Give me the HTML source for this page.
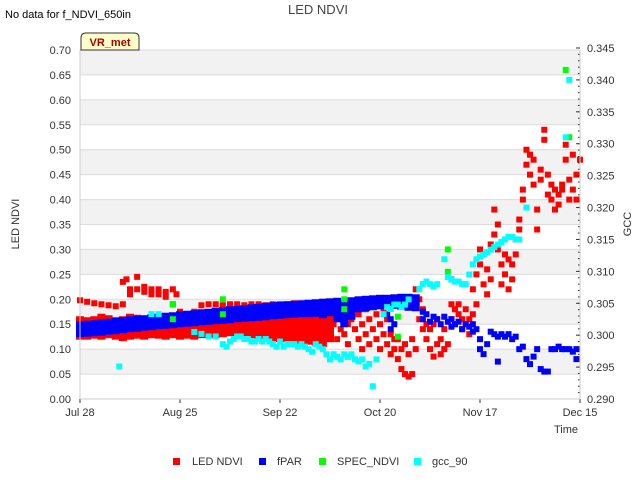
<!DOCTYPE html>
<html><head><meta charset="utf-8"><style>
body{margin:0;background:#fff;font-family:"Liberation Sans","DejaVu Sans",sans-serif}
svg text{font-family:"Liberation Sans","DejaVu Sans",sans-serif}
</style></head><body>
<svg id="chart" width="640" height="480" xmlns="http://www.w3.org/2000/svg">
<rect width="640" height="480" fill="#fff"/>
<g id="bands"></g><g id="grid"></g>
<g id="marks"></g>
<g id="axes"></g>
<text x="5" y="18" font-size="11" fill="#000">No data for f_NDVI_650in</text>
<text x="318" y="14" font-size="13" fill="#444" text-anchor="middle">LED NDVI</text>
<g>
<path d="M81,50 L81,38 Q81,33 86,33 L134,33 Q139,33 139,38 L139,50 Z" fill="#ffffcc" stroke="#333" stroke-width="1"/>
<text x="110" y="46" font-size="11" font-weight="bold" fill="#a00" text-anchor="middle">VR_met</text>
</g>
<text transform="translate(19,224) rotate(-90)" font-size="11" fill="#333" text-anchor="middle">LED NDVI</text>
<text transform="translate(631,224) rotate(-90)" font-size="11" fill="#333" text-anchor="middle">GCC</text>
<text x="566" y="433" font-size="11" fill="#333" text-anchor="middle">Time</text>
<g id="legend"></g>
</svg>
<script>
const yTicks=[0,0.05,0.1,0.15,0.2,0.25,0.3,0.35,0.4,0.45,0.5,0.55,0.6,0.65,0.7];
const y2Ticks=[0.29,0.295,0.3,0.305,0.31,0.315,0.32,0.325,0.33,0.335,0.34,0.345];
const xTickDays=[0,28,56,84,112,140];
const xTickLabels=["Jul 28","Aug 25","Sep 22","Oct 20","Nov 17","Dec 15"];
const fparHi=[0.150,0.151,0.152,0.154,0.155,0.157,0.158,0.160,0.161,0.162,0.164,0.165,0.167,0.168,0.170,0.171,0.172,0.174,0.175,0.177,0.178,0.180,0.181,0.182,0.184,0.185,0.187,0.188,0.189,0.190,0.191,0.192,0.193,0.194,0.195,0.196,0.197,0.192,0.198,0.200,0.201,0.202,0.203,0.203,0.204,0.205,0.205,0.204];
const fparLo=[0.130,0.131,0.132,0.133,0.135,0.136,0.138,0.140,0.141,0.143,0.144,0.146,0.147,0.148,0.150,0.151,0.152,0.154,0.155,0.156,0.157,0.158,0.160,0.161,0.162,0.163,0.164,0.166,0.167,0.168,0.169,0.170,0.170,0.171,0.168,0.172,0.160,0.150,0.165,0.180,0.182,0.184,0.186,0.186,0.187,0.185,0.183,0.182];
const fparExDays=[86,87,88,87,96,96,97,98,99,100,101,102,103,104,104,105,106,107,108,109,110,110,111,112,112,113,114,115,116,117,117,118,119,120,121,122,123,124,125,126,127,128,129,130,131,132,133,134,135,136,137,138,139,139];
const fparExVals=[0.17,0.16,0.15,0.14,0.175,0.16,0.17,0.155,0.165,0.16,0.15,0.165,0.155,0.16,0.145,0.15,0.155,0.14,0.15,0.145,0.15,0.135,0.14,0.12,0.10,0.09,0.11,0.135,0.13,0.125,0.075,0.13,0.125,0.13,0.12,0.125,0.10,0.105,0.08,0.07,0.085,0.10,0.06,0.055,0.055,0.1,0.1,0.105,0.1,0.1,0.1,0.095,0.1,0.08];
const ledLo=[0.125,0.125,0.127,0.125,0.128,0.125,0.122,0.125,0.127,0.125,0.128,0.127,0.125,0.128,0.125,0.127,0.125,0.128,0.13,0.128,0.13,0.132,0.13,0.13,0.128,0.125,0.125,0.122,0.12,0.12,0.118,0.115,0.115,0.113,0.11,0.12];
const ledHi=[0.160,0.158,0.160,0.165,0.162,0.158,0.160,0.165,0.163,0.160,0.158,0.162,0.165,0.165,0.168,0.165,0.163,0.165,0.168,0.165,0.167,0.170,0.168,0.170,0.172,0.170,0.172,0.175,0.175,0.178,0.18,0.18,0.182,0.18,0.182,0.185];
const ledTop=[0.198,0.195,0.192,0.19,0.188,0.186,0.19,0.21,0.22,0.215,0.22,0.21,0.205,0.19,0.175,0.17,0.175,0.188,0.19,0.19,0.188,0.19,0.19,0.188,0.19,0.19,0.188,0.19,0.19,0.19,0.192,0.19,0.192,0.19,0.195,0.19];
const ledExDays=[12,13,14,16,18,20,22,24,26,27,70,70,71,72,72,73,74,74,75,75,76,77,77,78,78,79,79,80,80,81,81,82,82,83,83,84,84,85,85,86,86,87,87,88,88,89,89,90,90,91,91,92,92,93,93,94,94,95,95,96,96,97,97,98,98,99,99,100,100,101,101,102,102,103,104,104,104,105,105,106,106,107,107,108,108,109,109,110,110,111,111,112,112,113,113,114,114,115,115,116,116,117,117,118,118,119,119,120,120,121,121,122,122,123,123,124,124,125,125,126,126,127,127,128,128,129,129,130,130,131,131,132,132,133,133,134,134,135,135,136,136,137,137,138,138,139,139,140];
const ledExVals=[0.235,0.24,0.22,0.245,0.225,0.21,0.22,0.215,0.22,0.21,0.13,0.17,0.15,0.12,0.16,0.14,0.18,0.13,0.15,0.11,0.16,0.14,0.19,0.12,0.17,0.15,0.10,0.13,0.18,0.16,0.11,0.14,0.19,0.12,0.17,0.15,0.10,0.13,0.18,0.11,0.16,0.13,0.09,0.12,0.10,0.08,0.12,0.06,0.10,0.05,0.11,0.09,0.045,0.12,0.05,0.10,0.22,0.20,0.16,0.14,0.18,0.12,0.15,0.14,0.10,0.085,0.15,0.11,0.16,0.12,0.09,0.14,0.10,0.11,0.19,0.24,0.16,0.18,0.15,0.17,0.19,0.16,0.14,0.18,0.15,0.13,0.16,0.17,0.22,0.19,0.25,0.27,0.30,0.23,0.29,0.26,0.21,0.24,0.31,0.33,0.38,0.35,0.30,0.27,0.23,0.29,0.25,0.28,0.22,0.27,0.24,0.32,0.29,0.36,0.34,0.42,0.40,0.47,0.50,0.49,0.45,0.48,0.43,0.38,0.34,0.46,0.44,0.52,0.54,0.45,0.41,0.40,0.43,0.38,0.42,0.41,0.39,0.42,0.43,0.51,0.48,0.44,0.40,0.49,0.42,0.45,0.40,0.48];
const specDays=[26,26,40,40,74,74,74,89,89,103,103,136,137];
const specVals=[0.19,0.16,0.20,0.17,0.22,0.20,0.18,0.165,0.125,0.30,0.255,0.66,0.525];
const gccDays=[11,20,22,32,34,36,38,40,41,42,43,44,45,46,47,48,49,50,51,52,53,54,55,56,57,58,59,60,61,62,63,64,65,66,67,68,69,70,71,72,73,74,75,76,77,78,79,80,81,82,83,85,86,87,88,89,90,91,92,95,96,97,98,99,100,102,103,104,105,106,107,108,109,110,111,112,113,114,115,116,117,118,119,120,121,122,123,125,136,137];
const gccVals=[0.2951,0.3033,0.3033,0.3005,0.3002,0.2998,0.2998,0.2986,0.2982,0.2990,0.2994,0.2998,0.2998,0.2994,0.2994,0.2990,0.2990,0.2994,0.2990,0.2994,0.2990,0.2986,0.2982,0.2990,0.2982,0.2986,0.2986,0.2986,0.2982,0.2986,0.2982,0.2978,0.2974,0.2986,0.2982,0.2978,0.2970,0.2962,0.2970,0.2966,0.2962,0.2970,0.2966,0.2970,0.2962,0.2959,0.2962,0.2951,0.2955,0.2920,0.2962,0.3033,0.3044,0.3041,0.3048,0.3048,0.3044,0.3048,0.3056,0.3072,0.3080,0.3084,0.3080,0.3076,0.3080,0.3119,0.3091,0.3087,0.3084,0.3084,0.3080,0.3080,0.3095,0.3111,0.3119,0.3123,0.3126,0.3130,0.3134,0.3138,0.3142,0.3146,0.3150,0.3154,0.3154,0.3150,0.3150,0.3200,0.3310,0.3400];

const X0=80,X1=580,Y0=399,Y1=50,DMAX=140;
const xs=d=>X0+d/DMAX*(X1-X0);
const ys=v=>Y0-v/0.7*(Y0-Y1);
const y2s=v=>Y0-(v-0.29)/0.055*351;
const NS="http://www.w3.org/2000/svg";
function mk(tag,attrs,parent){const e=document.createElementNS(NS,tag);for(const k in attrs)e.setAttribute(k,attrs[k]);parent.appendChild(e);return e;}
const bands=document.getElementById('bands'),grid=document.getElementById('grid'),axes=document.getElementById('axes'),marks=document.getElementById('marks');
for(let i=0;i<yTicks.length-1;i++){ if(i%2===1){const r=mk('rect',{x:X0,y:ys(yTicks[i+1]),width:X1-X0,height:ys(yTicks[i])-ys(yTicks[i+1]),fill:'#f2f2f2'},bands);

}}
yTicks.forEach((t,i)=>{const l=mk('line',{x1:X0,x2:X1,y1:ys(t),y2:ys(t),stroke:'#dcdcdc','stroke-width':1},grid);


const tx=mk('text',{x:71,y:ys(t)+4,'font-size':11,fill:'#333','text-anchor':'end'},axes);tx.textContent=t.toFixed(2);

});
y2Ticks.forEach(t=>{const tx=mk('text',{x:587,y:y2s(t)+4,'font-size':11,fill:'#333'},axes);tx.textContent=t.toFixed(3);


mk('line',{x1:X1-4,x2:X1,y1:y2s(t),y2:y2s(t),stroke:'#333'},axes);});
for(let k=0;k<=55;k++){const v=0.29+k*0.001;mk('line',{x1:X1-2,x2:X1,y1:y2s(v),y2:y2s(v),stroke:'#333'},axes);}
xTickDays.forEach((d,i)=>{const tx=mk('text',{x:xs(d),y:416,'font-size':11,fill:'#333','text-anchor':'middle'},axes);tx.textContent=xTickLabels[i];


mk('line',{x1:xs(d),x2:xs(d),y1:Y0,y2:Y0+4,stroke:'#333'},axes);});
mk('line',{x1:X0,x2:X0,y1:Y1,y2:Y0,stroke:'#ccc'},axes);
mk('line',{x1:X1,x2:X1,y1:Y1,y2:Y0,stroke:'#ccc'},axes);
mk('line',{x1:X0,x2:X1,y1:Y0,y2:Y0,stroke:'#ccc'},axes);
const S=6;
function pt(d,y,col,name){const r=mk('rect',{x:xs(d)-S/2,y:y-S/2,width:S,height:S,fill:col},marks);

}
function band(d,hi,lo,col,name){const r=mk('rect',{x:xs(d)-4,y:ys(hi)-S/2,width:8,height:ys(lo)-ys(hi)+S,fill:col},marks);

}
ledLo.forEach((v,i)=>band(i*2,ledHi[i],v,'#f00','led-ndvi-band'));
ledTop.forEach((v,i)=>pt(i*2,ys(v),'#f00','led-ndvi-point'));
ledExDays.forEach((d,i)=>pt(d,ys(ledExVals[i]),'#f00','led-ndvi-point'));
fparLo.forEach((v,i)=>band(i*2,fparHi[i],v,'#00f','fpar-band'));
fparExDays.forEach((d,i)=>pt(d,ys(fparExVals[i]),'#00f','fpar-point'));
specDays.forEach((d,i)=>pt(d,ys(specVals[i]),'#0f0','spec-ndvi-point'));
gccDays.forEach((d,i)=>pt(d,y2s(gccVals[i]),'#0ff','gcc-90-point'));
const lg=document.getElementById('legend');
[["LED NDVI","#f00",173,192],["fPAR","#00f",259,277],["SPEC_NDVI","#0f0",319,337],["gcc_90","#0ff",414,432]].forEach(e=>{
const r=mk('rect',{x:e[2],y:458,width:7,height:7,fill:e[1]},lg);


const t=mk('text',{x:e[3],y:465,'font-size':11,fill:'#333'},lg);t.textContent=e[0];

});
</script>
</body></html>
